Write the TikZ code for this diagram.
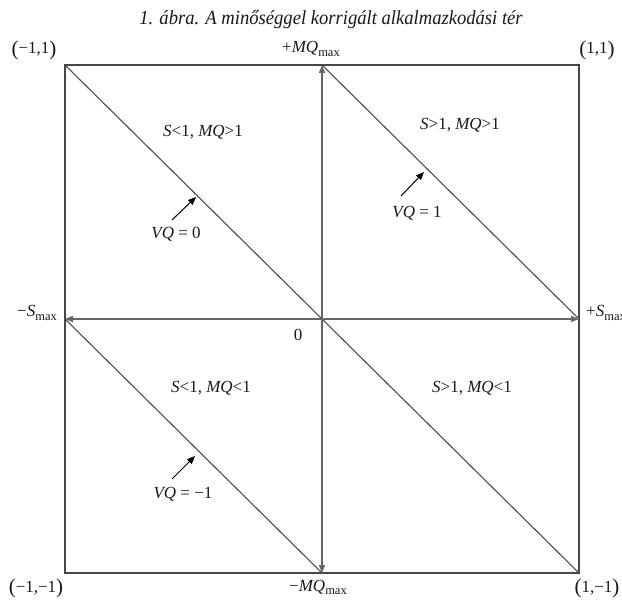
\documentclass[tikz,border=0pt]{standalone}
\usepackage{fontspec}
\setmainfont{Liberation Serif}
\usetikzlibrary{arrows.meta}
\newcommand\mxsub{\raisebox{-0.45ex}{\fontsize{12.5}{12.5}\selectfont max}}
\newcommand\bigpar[1]{{\fontsize{21}{21}\selectfont\raisebox{-0.2ex}{#1}}}
\begin{document}
\begin{tikzpicture}[x=1pt,y=-1pt,
  frame/.style={draw=black!72,line width=1.7pt},
  diag/.style={draw=black!70,line width=1.1pt},
  axis/.style={draw=black!60,line width=1.2pt,{Triangle[length=8pt,width=6pt]}-{Triangle[length=8pt,width=6pt]}},
  pointer/.style={draw=black,line width=1pt,-{Triangle[length=8pt,width=6.5pt]}},
  lbl/.style={inner sep=0pt,text=black!90,font=\fontsize{17}{18}\selectfont},
  ttl/.style={inner sep=0pt,text=black!90,font=\fontsize{20}{21}\selectfont\itshape}]
\useasboundingbox (0,0) rectangle (622,604);
\fill[white] (0,0) rectangle (622,604);
% corners and midpoints
\coordinate (tl) at (65,65);
\coordinate (tr) at (579,65);
\coordinate (bl) at (65,573);
\coordinate (br) at (579,573);
\coordinate (tm) at (322,65);
\coordinate (bm) at (322,573);
\coordinate (lm) at (65,319);
\coordinate (rm) at (579,319);
% frame
\draw[frame] (tl) -- (tr) -- (br) -- (bl) -- cycle;
% diagonals
\draw[diag] (tl) -- (br);
\draw[diag] (tm) -- (rm);
\draw[diag] (lm) -- (bm);
% axes
\draw[axis] (lm) -- (rm);
\draw[axis] (tm) -- (bm);
% pointers
\coordinate (p0s) at (172,220);
\coordinate (p0e) at (196,197);
\coordinate (p1s) at (401,196);
\coordinate (p1e) at (424,172);
\coordinate (pms) at (172,479);
\coordinate (pme) at (195,456);
\draw[pointer] (p0s) -- (p0e);
\draw[pointer] (p1s) -- (p1e);
\draw[pointer] (pms) -- (pme);
% title
\node[ttl,anchor=base] (title) at (331,25) {\scalebox{0.93}[1]{1. ábra. A minőséggel korrigált alkalmazkodási tér}};
% corner labels
\node[lbl,anchor=base] (ltl) at (34,54) {\bigpar{(}−1,1\bigpar{)}};
\node[lbl,anchor=base] (ltm) at (311,53) {+\textit{MQ}\mxsub};
\node[lbl,anchor=base] (ltr) at (597,54) {\bigpar{(}1,1\bigpar{)}};
\node[lbl,anchor=base east] (llm) at (57,317) {−\textit{S}\mxsub};
\node[lbl,anchor=base west] (lrm) at (586,317) {+\textit{S}\mxsub};
\node[lbl,anchor=base] (lbl1) at (36,592) {\bigpar{(}−1,−1\bigpar{)}};
\node[lbl,anchor=base] (lbm) at (318,591) {−\textit{MQ}\mxsub};
\node[lbl,anchor=base] (lbr) at (597,592) {\bigpar{(}1,−1\bigpar{)}};
\node[lbl,anchor=base] (zero) at (298,341) {0};
% region labels
\node[lbl,anchor=base] (q2) at (203,137) {\textit{S}<1, \textit{MQ}>1};
\node[lbl,anchor=base] (q1) at (460,130) {\textit{S}>1, \textit{MQ}>1};
\node[lbl,anchor=base] (q3) at (211,393) {\textit{S}<1, \textit{MQ}<1};
\node[lbl,anchor=base] (q4) at (472,393) {\textit{S}>1, \textit{MQ}<1};
% VQ labels
\node[lbl,anchor=base] (vq0) at (176,239) {\textit{VQ} = 0};
\node[lbl,anchor=base] (vq1) at (417,218) {\textit{VQ} = 1};
\node[lbl,anchor=base] (vqm) at (183,498) {\textit{VQ} = −1};
\end{tikzpicture}
\end{document}
